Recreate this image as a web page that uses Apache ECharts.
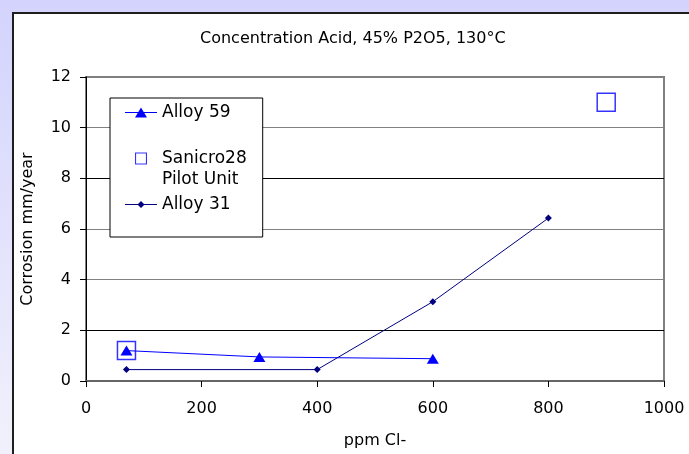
<!DOCTYPE html>
<html>
<head>
<meta charset="utf-8">
<script src="https://cdn.jsdelivr.net/npm/echarts@6/dist/echarts.min.js"></script>
<style>
  html, body { margin: 0; padding: 0; }
  #main { width: 689px; height: 454px; }
</style>
</head>
<body>
<div id="main"></div>
<script>
var chart = echarts.init(document.getElementById('main'));

// data
var alloy59X = [70, 300, 600];
var alloy59Y = [1.2, 0.95, 0.88];
var sanicroX = [70, 900];
var sanicroY = [1.2, 11];
var alloy31X = [70, 400, 600, 800];
var alloy31Y = [0.45, 0.45, 3.13, 6.43];
var seriesNames = ['Alloy 59', 'Sanicro28\nPilot Unit', 'Alloy 31'];

function pairs(xs, ys) {
    var out = [];
    for (var i = 0; i < xs.length; i++) out.push([xs[i], ys[i]]);
    return out;
}

var font = 'DejaVu Sans';

option = {
    backgroundColor: new echarts.graphic.LinearGradient(0, 0, 0, 1, [
        {offset: 0, color: '#d3d3fd'},
        {offset: 1, color: '#f1f1fc'}
    ]),
    animation: false,
    graphic: {
        elements: [{
            type: 'rect',
            z: -10,
            shape: {x: 13, y: 13, width: 700, height: 460},
            style: {fill: '#fff', stroke: '#1e1e1e', lineWidth: 2}
        }]
    },
    title: {
        text: 'Concentration Acid, 45% P2O5, 130°C',
        left: 200,
        top: 31,
        padding: 0,
        textStyle: {fontFamily: font, fontSize: 16, fontWeight: 'normal', color: '#000'}
    },
    legend: {
        orient: 'vertical',
        left: 110,
        top: 98,
        padding: [4, 16, 22, 15],
        itemGap: 4,
        itemWidth: 32,
        itemHeight: 12,
        selectedMode: false,
        backgroundColor: '#fff',
        borderColor: '#000',
        borderWidth: 1,
        borderRadius: 0,
        itemStyle: {borderWidth: 0},
        textStyle: {fontFamily: font, fontSize: 17, lineHeight: 21, color: '#000'},
        formatter: function (name) {
            // blank first line keeps the square level with "Sanicro28"
            return name.indexOf('\n') >= 0 ? '\n' + name : name;
        },
        data: [
            {name: seriesNames[0], icon: 'path://M0,5.5L32,5.5L32,6.5L0,6.5Z M10,11L16,1L22,11Z'},
            {name: seriesNames[1], icon: 'path://M0,0L11,0L11,11L0,11Z M1,1L1,10L10,10L10,1Z',
                itemStyle: {color: '#0000ff'}},
            {name: seriesNames[2], icon: 'path://M0,5.5L32,5.5L32,6.5L0,6.5Z M16,2.5L19.5,6L16,9.5L12.5,6Z'}
        ]
    },
    grid: {
        left: 86,
        right: 25,
        top: 77,
        bottom: 73,
        show: true,
        borderColor: '#808080',
        borderWidth: 2,
        backgroundColor: 'transparent'
    },
    xAxis: {
        type: 'value',
        min: 0,
        max: 1000,
        interval: 200,
        name: 'ppm Cl-',
        nameLocation: 'middle',
        nameGap: 52,
        nameTextStyle: {fontFamily: font, fontSize: 16, color: '#000'},
        axisLine: {lineStyle: {color: '#666', width: 2}},
        axisTick: {show: true, inside: false, length: 6, lineStyle: {color: '#000'}},
        axisLabel: {
            fontFamily: font, fontSize: 16, color: '#000', margin: 20,
            formatter: function (v) { return String(v); }
        },
        splitLine: {show: false}
    },
    yAxis: {
        type: 'value',
        min: 0,
        max: 12,
        interval: 2,
        name: 'Corrosion mm/year',
        nameLocation: 'middle',
        nameGap: 50,
        nameTextStyle: {fontFamily: font, fontSize: 16, color: '#000'},
        axisLine: {show: true, lineStyle: {color: '#000', width: 1}},
        axisTick: {show: true, inside: false, length: 6, lineStyle: {color: '#000'}},
        axisLabel: {fontFamily: font, fontSize: 16, color: '#000', margin: 15},
        splitLine: {
            show: true,
            lineStyle: {
                color: ['#808080', '#000', '#808080', '#808080', '#000', '#808080', '#808080'],
                width: 1
            }
        }
    },
    series: [
        {
            name: seriesNames[0],
            type: 'line',
            data: pairs(alloy59X, alloy59Y),
            symbol: 'triangle',
            symbolSize: [12, 10],
            itemStyle: {color: '#0000ff'},
            lineStyle: {color: '#0000ff', width: 1}
        },
        {
            name: seriesNames[1],
            type: 'scatter',
            data: pairs(sanicroX, sanicroY),
            symbol: 'rect',
            symbolSize: 18,
            itemStyle: {color: 'rgba(0,0,0,0)', borderColor: '#0000ff', borderWidth: 1.5}
        },
        {
            name: seriesNames[2],
            type: 'line',
            data: pairs(alloy31X, alloy31Y),
            symbol: 'diamond',
            symbolSize: 7,
            itemStyle: {color: '#000080'},
            lineStyle: {color: '#000080', width: 1}
        }
    ]
};

chart.setOption(option);
</script>
</body>
</html>
